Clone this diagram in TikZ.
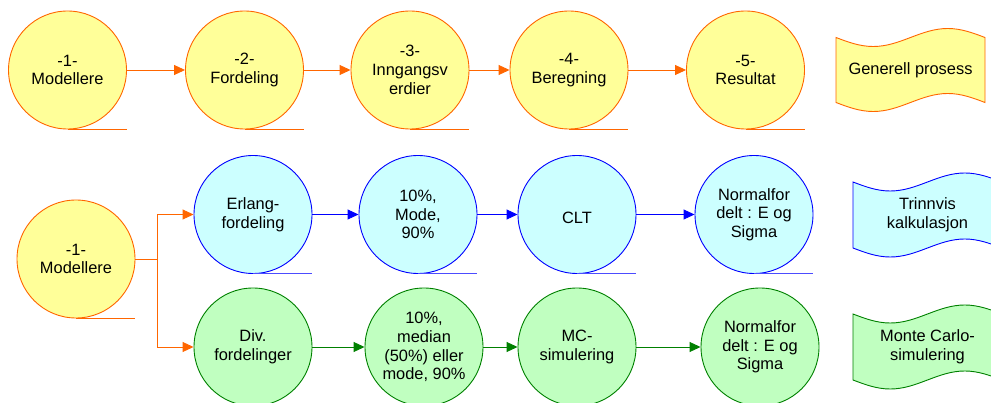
\documentclass[tikz,border=0pt]{standalone}
\usepackage{fontspec}
\setmainfont{Liberation Sans}
\usetikzlibrary{arrows.meta}

\definecolor{ylwfill}{HTML}{FFFF99}
\definecolor{orgline}{HTML}{FF6600}
\definecolor{cyanfill}{HTML}{CCFFFF}
\definecolor{blueline}{HTML}{0000FF}
\definecolor{grnfill}{HTML}{C0FFC0}
\definecolor{grnline}{HTML}{008000}

\tikzset{
  stage/.style={circle, draw, line width=0.9pt, minimum size=118pt, inner sep=0pt,
    align=center, font=\fontsize{16.4}{18.7}\selectfont,
    execute at begin node={\rule{0pt}{18.5pt}}},
  ystage/.style={stage, draw=orgline, fill=ylwfill},
  bstage/.style={stage, draw=blueline, fill=cyanfill},
  gstage/.style={stage, draw=grnline, fill=grnfill},
  tail/.style={line width=0.9pt},
  flow/.style={line width=0.9pt, -{Triangle[length=11pt,width=10pt]}},
  flagtext/.style={align=center, font=\fontsize{16.4}{19.5}\selectfont},
  flagshape/.style={line width=0.9pt},
}

\begin{document}
\begin{tikzpicture}[x=1pt, y=-1pt]
\useasboundingbox (0,0) rectangle (991,403);
\clip (0,0) rectangle (991,403);

% ---- general process ----
\node[ystage] (g1) at (67.5,70)  {-1-\\Modellere};
\node[ystage] (g2) at (244.5,70) {-2-\\Fordeling};
\node[ystage] (g3) at (410,70)   {-3-\\Inngangsv\\erdier};
\node[ystage] (g4) at (569,70)   {-4-\\Beregning};
\node[ystage] (g5) at (745.5,70) {-5-\\Resultat};
\foreach \n in {g1,g2,g3,g4,g5}
  \draw[tail, orgline] (\n.south) -- (\n.south -| \n.east);
\draw[flow, orgline] (g1) -- (g2);
\draw[flow, orgline] (g2) -- (g3);
\draw[flow, orgline] (g3) -- (g4);
\draw[flow, orgline] (g4) -- (g5);

% ---- model step feeding both methods ----
\node[ystage] (m) at (76,259) {-1-\\Modellere};
\draw[tail, orgline] (m.south) -- (m.south -| m.east);
\coordinate (split) at (157,259);

% ---- stepwise calculation ----
\node[bstage] (b1) at (253,214.5) {Erlang-\\fordeling};
\node[bstage] (b2) at (418,214.5) {10\%,\\Mode,\\90\%};
\node[bstage] (b3) at (577,214.5) {CLT};
\node[bstage] (b4) at (754,214.5) {Normalfor\\delt : E og\\Sigma};
\foreach \n in {b1,b2,b3,b4}
  \draw[tail, blueline!70] (\n.south) -- (\n.south -| \n.east);
\draw[flow, blueline] (b1) -- (b2);
\draw[flow, blueline] (b2) -- (b3);
\draw[flow, blueline] (b3) -- (b4);

% ---- Monte Carlo simulation ----
\node[gstage] (c1) at (253,347) {Div.\\fordelinger};
\node[gstage] (c2) at (424,347) {10\%,\\median\\(50\%) eller\\mode, 90\%};
\node[gstage] (c3) at (577,347) {MC-\\simulering};
\node[gstage] (c4) at (760,347) {Normalfor\\delt : E og\\Sigma};
\draw[flow, grnline] (c1) -- (c2);
\draw[flow, grnline] (c2) -- (c3);
\draw[flow, grnline] (c3) -- (c4);

% ---- branch from the model step ----
\draw[tail, orgline] (m.east) -- (split);
\draw[flow, orgline] (split) |- (b1.west);
\draw[flow, orgline] (split) |- (c1.west);

% ---- legend flags ----
\draw[flagshape, draw=orgline, fill=ylwfill]
  (836,37.5) sin (873.25,46.5) cos (910.5,37.5) sin (947.75,28.5) cos (985,37.5)
  -- (985,102.5) sin (947.75,93.5) cos (910.5,102.5) sin (873.25,111.5) cos (836,102.5) -- cycle;
\node[flagtext] (lg) at (910.5,70) {Generell prosess};

\draw[flagshape, draw=blueline, fill=cyanfill]
  (853,182) sin (890.25,191) cos (927.5,182) sin (964.75,173) cos (1002,182)
  -- (1002,248) sin (964.75,239) cos (927.5,248) sin (890.25,257) cos (853,248) -- cycle;
\node[flagtext] (lb) at (927.5,215) {Trinnvis\\kalkulasjon};

\draw[flagshape, draw=grnline, fill=grnfill]
  (853,314) sin (890.25,323) cos (927.5,314) sin (964.75,305) cos (1002,314)
  -- (1002,380) sin (964.75,371) cos (927.5,380) sin (890.25,389) cos (853,380) -- cycle;
\node[flagtext] (lc) at (927.5,347) {Monte Carlo-\\simulering};
\end{tikzpicture}
\end{document}
